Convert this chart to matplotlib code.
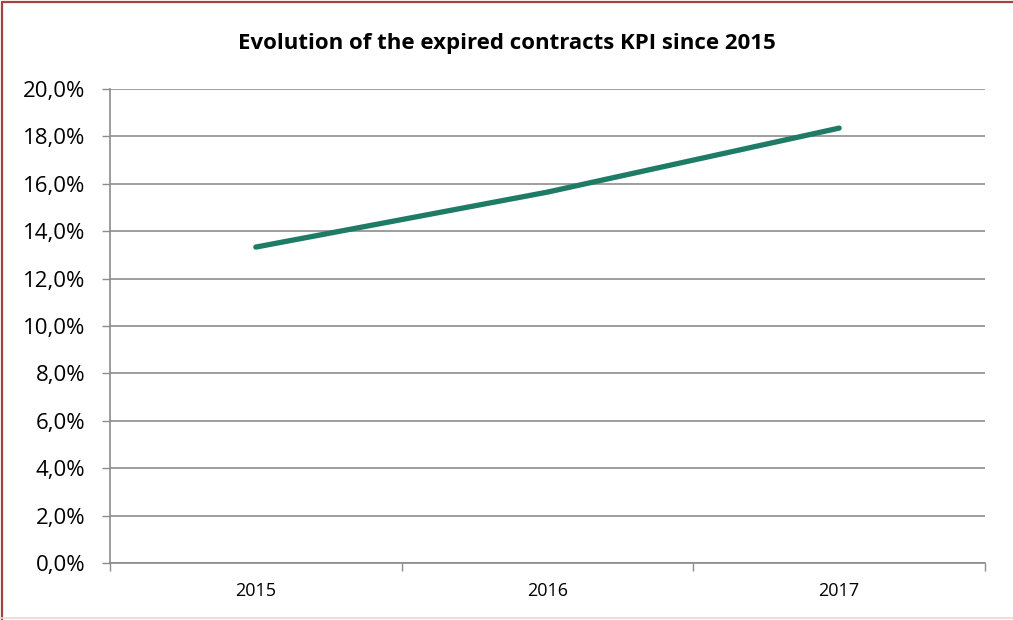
import numpy as np
import matplotlib.pyplot as plt
from matplotlib.ticker import FuncFormatter, FixedLocator
from matplotlib.lines import Line2D

# KPI values per year (share of expired contracts)
years = ['2015', '2016', '2017']
kpi = [13.33, 15.65, 18.35]

plt.rcParams['font.family'] = ['Open Sans', 'DejaVu Sans']

fig = plt.figure(figsize=(10.13, 6.2), dpi=100)
ax = fig.add_axes([110 / 1013, 57 / 620, 875 / 1013, 474 / 620])

x = np.arange(len(years))
ax.plot(x, kpi, color='#1e7b66', linewidth=3.8, solid_capstyle='round')

ax.set_xlim(-0.5, len(years) - 0.5)
ax.set_ylim(0, 20)

# y axis: percent with comma decimals
ax.set_yticks(np.arange(0, 21, 2))
ax.yaxis.set_major_formatter(FuncFormatter(lambda v, p: f'{v:.1f}%'.replace('.', ',')))
ax.grid(axis='y', color='#8c8c8c', linewidth=1.2)
ax.set_axisbelow(True)

# x axis: labels at centres, tick marks between categories
ax.set_xticks(x)
ax.set_xticklabels(years)
ax.xaxis.set_minor_locator(FixedLocator(np.arange(-0.5, len(years), 1.0)))
ax.tick_params(axis='x', which='major', length=0, pad=14, labelsize=13)
ax.tick_params(axis='x', which='minor', length=6, width=1, color='#8c8c8c')
ax.tick_params(axis='y', length=6, width=1, color='#8c8c8c', pad=12, labelsize=16)

for side in ['top', 'right']:
    ax.spines[side].set_visible(False)
for side in ['left', 'bottom']:
    ax.spines[side].set_color('#8c8c8c')
    ax.spines[side].set_linewidth(1.2)

fig.text(507 / 1013, 1 - 44 / 620, 'Evolution of the expired contracts KPI since 2015',
         ha='center', va='center', fontsize=16, fontweight='bold')

# chart frame: red on top and left, faint line at the bottom
fig.lines.append(Line2D([0.002, 0.002, 1.0], [0.0, 0.997, 0.997], transform=fig.transFigure,
                        color='#a8403c', linewidth=1.6))
fig.lines.append(Line2D([0.0, 1.0], [0.003, 0.003], transform=fig.transFigure,
                        color='#ead8d8', linewidth=1.2))

fig.savefig('out.png', dpi=100)
